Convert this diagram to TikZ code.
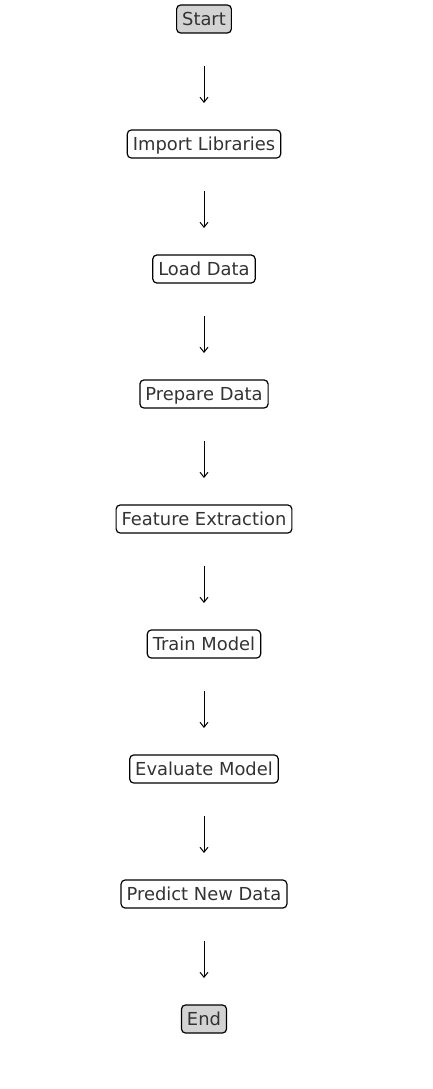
\documentclass[tikz,border=0pt]{standalone}
\usepackage{fontspec}
\setmainfont{DejaVu Sans}
\usetikzlibrary{arrows.meta}
\definecolor{txt}{HTML}{333333}
\definecolor{term}{HTML}{D3D3D3}
\tikzset{
  box/.style={draw=black, line width=1.2pt, rounded corners=4pt, fill=white,
    text=txt, font=\fontsize{17.9}{20}\selectfont, inner xsep=5.5pt, inner ysep=0pt,
    minimum height=28pt, text height=15pt, text depth=2pt},
  termbox/.style={box, fill=term},
  conn/.style={draw=black, line width=1pt, -{Straight Barb[length=5pt,width=8pt,line width=1pt]},
    shorten <=47pt, shorten >=41pt}
}
\begin{document}
\begin{tikzpicture}[x=1pt,y=-1pt]
\useasboundingbox (0,0) rectangle (433,1089);
\node[termbox] (n0) at (204,19) {Start};
\node[box] (n1) at (204,144) {Import Libraries};
\node[box] (n2) at (204,269) {Load Data};
\node[box] (n3) at (204,394) {Prepare Data};
\node[box] (n4) at (204,519) {Feature Extraction};
\node[box] (n5) at (204,644) {Train Model};
\node[box] (n6) at (204,769) {Evaluate Model};
\node[box] (n7) at (204,894) {Predict New Data};
\node[termbox] (n8) at (204,1019) {End};
\foreach \a/\b in {n0/n1,n1/n2,n2/n3,n3/n4,n4/n5,n5/n6,n6/n7,n7/n8}
  \draw[conn] (\a.center) -- (\b.center);
\end{tikzpicture}
\end{document}
